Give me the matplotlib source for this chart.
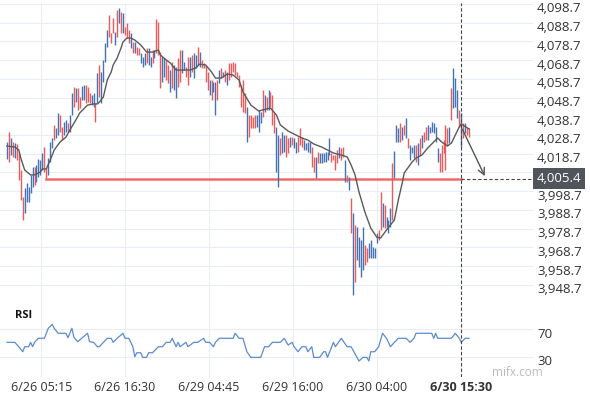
import numpy as np
import matplotlib.pyplot as plt
import matplotlib.transforms as mtransforms

plt.rcParams['font.family'] = ['Open Sans', 'DejaVu Sans']

# bar high / low, 'b' = up bar, 'r' = down bar
highs = [4025.0, 4030.3, 4027.1, 4025.0, 4024.4, 4023.9, 4019.1, 4010.0, 3995.6, 4000.4,
         4003.1, 4001.0, 4007.4, 4011.6, 4011.6, 4012.7, 4015.9, 4015.4, 4019.1, 4022.3,
         4011.1, 4016.4, 4025.0, 4027.1, 4034.0, 4032.4, 4040.5, 4039.4, 4033.0, 4035.7,
         4036.7, 4035.1, 4039.4, 4051.1, 4054.3, 4053.8, 4053.8, 4049.0, 4054.9, 4055.4,
         4055.4, 4054.3, 4051.1, 4050.1, 4051.1, 4045.8, 4061.8, 4066.1, 4062.4, 4068.8,
         4077.8, 4084.8, 4092.8, 4083.2, 4091.2, 4083.7, 4095.5, 4096.5, 4094.4, 4093.9,
         4086.4, 4088.5, 4084.8, 4083.2, 4078.4, 4078.4, 4075.7, 4075.2, 4072.5, 4070.4,
         4072.5, 4075.2, 4075.2, 4070.4, 4074.1, 4074.1, 4090.7, 4089.1, 4073.0, 4070.4,
         4069.8, 4068.8, 4066.1, 4063.4, 4067.7, 4066.1, 4065.0, 4069.8, 4074.1, 4074.1,
         4067.7, 4065.0, 4070.4, 4070.4, 4071.4, 4072.5, 4071.4, 4075.7, 4073.0, 4068.8,
         4067.2, 4066.1, 4062.4, 4058.1, 4058.1, 4057.0, 4057.0, 4058.1, 4063.4, 4064.5,
         4062.4, 4063.4, 4062.4, 4067.2, 4067.2, 4067.7, 4067.2, 4062.4, 4060.7, 4055.4,
         4058.1, 4051.1, 4043.7, 4039.4, 4039.4, 4038.3, 4039.4, 4039.4, 4042.1, 4041.0,
         4052.7, 4050.1, 4049.0, 4052.7, 4051.7, 4050.1, 4040.5, 4033.0, 4028.7, 4027.1,
         4030.3, 4028.7, 4028.7, 4027.1, 4027.6, 4027.6, 4027.1, 4025.0, 4027.6, 4032.4,
         4027.6, 4026.0, 4024.4, 4025.0, 4025.0, 4022.3, 4017.0, 4017.0, 4019.6, 4019.1,
         4019.1, 4019.1, 4019.6, 4019.6, 4027.1, 4019.1, 4018.0, 4018.0, 4020.7, 4022.3,
         4021.8, 4022.3, 4015.4, 4007.4, 4006.3, 3995.1, 3987.1, 3980.7, 3979.6, 3974.2,
         3972.6, 3979.6, 3970.0, 3968.4, 3971.0, 3972.6, 3968.9, 3968.4, 3976.4, 3977.9,
         3998.3, 3992.4, 3991.3, 3984.9, 3983.3, 3989.7, 4013.8, 4020.0, 4034.0, 4032.4,
         4035.1, 4033.0, 4034.0, 4037.8, 4027.1, 4023.4, 4022.3, 4023.4, 4023.4, 4024.4,
         4027.1, 4028.7, 4030.3, 4033.0, 4034.0, 4033.0, 4035.7, 4035.1, 4033.0, 4021.8,
         4019.1, 4023.4, 4026.0, 4034.0, 4032.4, 4033.0, 4053.8, 4064.5, 4059.1, 4052.7,
         4042.1, 4040.5, 4035.1, 4035.1, 4032.4, 4032.4]
lows = [4015.9, 4014.3, 4018.0, 4017.0, 4016.4, 4015.4, 4004.7, 3994.0, 3983.3, 3987.1,
        3992.9, 3992.9, 3997.7, 4000.9, 4002.0, 4003.6, 4006.3, 4007.3, 4010.0, 4009.0,
        4005.7, 4007.3, 4014.3, 4021.8, 4026.0, 4027.1, 4028.7, 4030.3, 4026.0, 4028.7,
        4030.3, 4030.3, 4030.3, 4039.4, 4043.7, 4046.3, 4042.1, 4043.1, 4047.4, 4047.4,
        4045.8, 4046.3, 4045.8, 4044.7, 4043.7, 4035.7, 4045.8, 4049.0, 4045.8, 4057.0,
        4067.7, 4075.7, 4081.0, 4077.8, 4083.2, 4076.8, 4081.0, 4088.5, 4083.2, 4083.2,
        4082.1, 4080.5, 4077.8, 4075.2, 4072.5, 4072.5, 4071.4, 4071.4, 4067.2, 4065.0,
        4066.1, 4067.2, 4066.1, 4065.0, 4067.2, 4069.8, 4072.5, 4071.4, 4053.8, 4057.0,
        4059.7, 4058.1, 4056.5, 4051.7, 4053.8, 4052.7, 4048.5, 4054.3, 4057.0, 4061.8,
        4063.4, 4059.7, 4055.4, 4059.7, 4062.4, 4059.1, 4064.5, 4066.1, 4065.0, 4064.5,
        4064.5, 4057.0, 4052.7, 4050.1, 4047.4, 4051.7, 4039.4, 4047.4, 4056.5, 4059.1,
        4059.7, 4057.0, 4055.4, 4058.1, 4059.7, 4062.4, 4060.7, 4059.7, 4054.3, 4043.7,
        4041.0, 4040.5, 4025.0, 4027.6, 4032.4, 4032.4, 4032.4, 4033.0, 4030.3, 4035.1,
        4038.3, 4041.0, 4042.1, 4042.1, 4043.7, 4034.1, 4029.8, 4009.0, 4000.9, 4018.0,
        4019.1, 4019.6, 4017.0, 4019.1, 4022.3, 4023.4, 4021.8, 4019.1, 4019.6, 4023.4,
        4022.3, 4020.7, 4020.7, 4019.6, 4019.1, 4011.6, 4009.0, 4005.7, 4013.8, 4013.8,
        4013.8, 4014.3, 4014.3, 4015.4, 4018.0, 4014.3, 4015.4, 4010.0, 4013.8, 4016.4,
        4015.4, 4017.0, 4003.6, 4003.6, 3999.3, 3976.4, 3943.3, 3950.2, 3962.0, 3958.2,
        3952.9, 3956.6, 3959.3, 3960.9, 3963.0, 3963.0, 3963.0, 3963.0, 3971.0, 3972.6,
        3977.9, 3979.6, 3979.0, 3979.6, 3976.4, 3979.6, 3983.3, 4005.7, 4025.0, 4025.0,
        4025.0, 4026.0, 4028.7, 4027.1, 4021.8, 4015.4, 4019.1, 4016.4, 4014.3, 4012.7,
        4018.0, 4021.8, 4025.0, 4026.0, 4026.0, 4029.8, 4030.3, 4029.8, 4025.0, 4014.3,
        4009.0, 4009.0, 4019.1, 4010.0, 4023.4, 4024.4, 4036.7, 4043.1, 4043.7, 4037.8,
        4033.0, 4022.3, 4027.1, 4029.8, 4028.7, 4027.6]
direction = ("brbrbrrrrbbbbbrbbbbrrbbbrbbrrbbrbbrbrrbbrrrbbrbrbbbbrrrbrbrb"
             "rrrbrbrrbbbrbbrbrrrbbrrbrbbrrbbrrbrbbrbrrrrbrbbrbrbrbrrrrrrrr"
             "rbrrrrbbbrbrbrrrbbrbbrrbrbbrrrbbbbrrbrbbbbbbrrrrbrrbrbrbrbbbbr"
             "rbbbbbrrbrbbbrbbbrbrbrbbbrbrbrrbbbbbbrrrrrbrbb")

# moving average line, (bar index, price)
ma_idx = [0, 4, 6, 7, 9, 12, 14, 17, 18, 20, 22, 24, 27, 30, 32, 35, 37, 40, 41, 44,
          46, 47, 49, 51, 53, 54, 56, 58, 59, 61, 63, 65, 68, 71, 74, 77, 78, 81, 83, 86,
          91, 93, 96, 98, 101, 104, 106, 109, 112, 115, 118, 120, 124, 128, 130, 134, 137,
          139, 143, 146, 150, 153, 156, 160, 163, 166, 170, 173, 175, 177, 179, 182, 185,
          188, 190, 193, 195, 197, 199, 201, 202, 206, 208, 211, 214, 217, 219, 221, 224,
          226, 228, 230, 231, 235]
ma_val = [4022.8, 4022.3, 4020.7, 4016.4, 4010.0, 4007.4, 4007.4, 4009.0, 4010.6, 4010.6,
          4015.4, 4020.7, 4025.0, 4027.6, 4031.4, 4036.7, 4040.5, 4043.7, 4044.7, 4045.3,
          4045.3, 4046.3, 4049.0, 4058.1, 4062.4, 4066.1, 4069.8, 4075.2, 4078.4, 4080.5,
          4080.5, 4079.4, 4076.8, 4073.0, 4073.0, 4074.1, 4071.4, 4068.8, 4067.2, 4063.4,
          4063.4, 4063.4, 4064.5, 4066.6, 4066.1, 4062.4, 4059.1, 4059.1, 4061.3, 4060.7,
          4058.1, 4051.7, 4044.7, 4041.5, 4042.1, 4043.1, 4039.4, 4034.1, 4030.8, 4029.2,
          4027.1, 4026.0, 4023.9, 4022.3, 4020.7, 4019.1, 4018.0, 4017.0, 4012.7, 4007.4,
          3998.3, 3987.6, 3979.0, 3974.2, 3973.7, 3978.0, 3980.7, 3983.3, 3994.0, 4003.1,
          4008.4, 4014.3, 4016.4, 4018.0, 4021.8, 4025.0, 4027.1, 4025.0, 4022.8, 4024.4,
          4028.7, 4033.0, 4034.6, 4031.9]

# RSI line, (bar index, value)
rsi_idx = [0, 4, 6, 8, 9, 11, 12, 13, 14, 16, 19, 21, 23, 24, 26, 30, 31, 33, 34, 36,
           38, 41, 42, 44, 46, 47, 49, 51, 53, 54, 56, 59, 60, 62, 64, 65, 66, 68, 69, 71,
           72, 74, 77, 79, 81, 83, 84, 86, 87, 88, 91, 92, 95, 97, 100, 101, 103, 105, 106,
           108, 115, 116, 118, 120, 122, 124, 129, 131, 133, 135, 139, 141, 143, 145, 146,
           148, 150, 152, 153, 155, 156, 159, 161, 162, 163, 166, 167, 170, 173, 175, 178,
           179, 181, 183, 184, 185, 187, 189, 191, 193, 195, 197, 199, 203, 205, 207, 208,
           216, 217, 218, 219, 226, 228, 230, 231, 233, 235]
rsi_val = [51, 51, 44.6, 37.3, 44.6, 44.6, 51, 44.6, 51, 56.9, 56.9, 71.5, 77.3, 71.5,
           64.2, 64.2, 57.7, 71.5, 58.5, 51.9, 56.9, 64.2, 51.9, 51, 44.6, 44.6, 51, 56.9,
           56.9, 51, 56.9, 64.2, 56.9, 56.9, 44.6, 30, 35.8, 35.8, 29, 29, 35.8, 35.8, 44.6,
           44.6, 51, 51, 56.9, 44.6, 51, 44.6, 51, 44.6, 51, 51, 56.9, 51, 51, 44.6, 51,
           56.9, 56.9, 64.2, 56.9, 56.9, 37.3, 29, 29, 44.6, 44.6, 51, 51, 56.9, 47, 51,
           44.6, 37.3, 44.6, 44.6, 37.3, 44.6, 29, 29, 37.3, 37.3, 29, 51, 44.6, 56.9, 44.6,
           44.6, 29, 23.7, 29, 29, 23.7, 37.3, 37.3, 44.6, 64.2, 56.9, 44.6, 51, 56.9, 56.9,
           51, 56.9, 64.2, 64.2, 56.9, 64.2, 56.9, 56.9, 64.2, 56.9, 51, 56.9, 56.9]

level = 4005.4
y_ticks = [3948.7, 3958.7, 3968.7, 3978.7, 3988.7, 3998.7, 4008.7, 4018.7,
           4028.7, 4038.7, 4048.7, 4058.7, 4068.7, 4078.7, 4088.7, 4098.7]
x_tick_pos = [17.5, 60, 102.5, 145.5, 188, 231]
x_tick_labels = ['6/26 05:15', '6/26 16:30', '6/29 04:45', '6/29 16:00',
                 '6/30 04:00', '6/30 15:30']
now_idx = 231

blue = '#4472b4'
red = '#ee5a5a'
grid_c = '#e8eef4'
x_lim = (-3.56, 267.5)

fig = plt.figure(figsize=(5.9, 4), dpi=100)
ax = fig.add_axes([0, 0.25, 533 / 590, 0.7425])
ax_r = fig.add_axes([0, 23 / 400, 533 / 590, 77 / 400])

for a in (ax, ax_r):
    for s in a.spines.values():
        s.set_visible(False)
    a.set_xlim(*x_lim)
    a.set_xticks(x_tick_pos)
    a.grid(color=grid_c, lw=0.8)
    a.set_axisbelow(True)
    a.yaxis.tick_right()
    a.tick_params(length=0)
    a.tick_params(axis='y', pad=3, labelsize=9.5, labelcolor='#333333')

# price bars
x = np.arange(len(highs))
cols = [blue if c == 'b' else red for c in direction]
ax.vlines(x, lows, highs, colors=cols, lw=1.0, zorder=3)
ax.plot(ma_idx, ma_val, color='#5a5a5a', lw=1.0, zorder=4)

ax.plot([20, now_idx], [level, level], color=red, lw=1.8, alpha=0.9, zorder=2)
ax.plot([now_idx, x_lim[1] + 2], [level, level], color='#444444', lw=0.8,
        ls=(0, (3, 2)), clip_on=False, zorder=2)
ax.annotate('', xy=(243.6, level), xytext=(now_idx, 4033.1),
            arrowprops=dict(arrowstyle='->', color='#555555', lw=1.0, mutation_scale=12))

ax.set_ylim(3940.6, 4099.2)
ax.set_yticks(y_ticks)
ax.set_yticklabels(['{:,.1f}'.format(v) for v in y_ticks])
ax.set_xticklabels([])
ax.axvline(now_idx, color='#444444', lw=0.8, ls=(0, (3, 2)), zorder=5)

ax.text(1.0075, level, '{:,.1f}'.format(level), transform=ax.get_yaxis_transform(),
        ha='left', va='center', color='white', fontsize=9.5, clip_on=False, zorder=10,
        bbox=dict(boxstyle='square,pad=0.3', fc='#50555b', ec='none'))

# RSI panel
ax_r.plot(rsi_idx, rsi_val, color='#5b8bd0', lw=0.9)
ax_r.set_ylim(0.4, 112.8)
ax_r.set_yticks([30, 70])
ax_r.set_xticklabels(x_tick_labels)
ax_r.tick_params(axis='x', pad=3, labelsize=9, labelcolor='#333333')
ax_r.get_xticklabels()[-1].set_fontweight('bold')
ax_r.axvline(now_idx, color='#444444', lw=0.8, ls=(0, (3, 2)), zorder=5)
ax_r.text(0.028, 0.805, 'RSI', transform=ax_r.transAxes, ha='left', va='center',
          fontsize=8, fontweight='bold', color='#111111')

# price labels sit a little below their grid lines
shift = mtransforms.ScaledTranslation(0, -2.5 / 72, fig.dpi_scale_trans)
for a in (ax, ax_r):
    for lab in a.get_yticklabels():
        lab.set_transform(lab.get_transform() + shift)

fig.text(492 / 590, 0.07, 'mifx.com', ha='left', va='center', fontsize=8.5, color='#bbbbbb')

fig.savefig('out.png', dpi=100)
